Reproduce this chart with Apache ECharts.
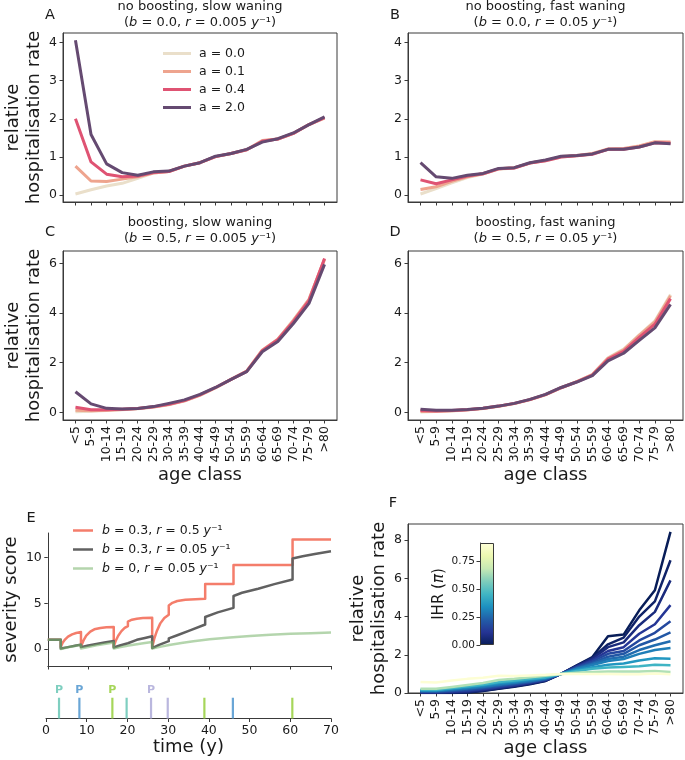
<!DOCTYPE html>
<html><head><meta charset="utf-8">
<script src="https://cdn.jsdelivr.net/npm/echarts@6/dist/echarts.min.js"></script>
<style>html,body{margin:0;padding:0;background:#fff}#c{width:685px;height:760px}</style>
</head><body><div id="c"></div><script>
// ---------------- DATA ----------------
const ageClasses = ['<5','5-9','10-14','15-19','20-24','25-29','30-34','35-39','40-44','45-49','50-54','55-59','60-64','65-69','70-74','75-79','>80'];
const aLabels = ['a = 0.0','a = 0.1','a = 0.4','a = 2.0'];

// Panel A: no boosting, slow waning
const A_a00 = [0.03,0.14,0.24,0.31,0.44,0.58,0.62,0.76,0.85,1.01,1.09,1.19,1.42,1.47,1.62,1.85,2.03];
const A_a01 = [0.76,0.37,0.36,0.42,0.48,0.58,0.62,0.76,0.85,1.01,1.09,1.19,1.43,1.47,1.62,1.85,2.02];
const A_a04 = [2.00,0.87,0.55,0.48,0.50,0.59,0.62,0.76,0.85,1.01,1.09,1.19,1.41,1.47,1.62,1.85,2.03];
const A_a20 = [4.06,1.59,0.82,0.59,0.52,0.61,0.63,0.76,0.85,1.02,1.09,1.20,1.39,1.48,1.63,1.85,2.05];
// Panel B: no boosting, fast waning
const B_a00 = [0.03,0.17,0.32,0.46,0.55,0.68,0.71,0.84,0.90,1.00,1.03,1.08,1.20,1.21,1.28,1.38,1.37];
const B_a01 = [0.15,0.22,0.36,0.48,0.56,0.69,0.72,0.84,0.91,1.01,1.04,1.09,1.21,1.22,1.29,1.40,1.39];
const B_a04 = [0.40,0.30,0.40,0.50,0.56,0.69,0.71,0.84,0.90,1.00,1.03,1.07,1.20,1.20,1.26,1.37,1.36];
const B_a20 = [0.85,0.48,0.44,0.52,0.57,0.70,0.72,0.85,0.92,1.02,1.04,1.08,1.20,1.20,1.26,1.37,1.35];
// Panel C: boosting, slow waning
const C_a00 = [0.02,0.04,0.07,0.10,0.14,0.20,0.30,0.45,0.68,0.98,1.32,1.66,2.50,2.95,3.72,4.55,6.15];
const C_a01 = [0.08,0.06,0.08,0.11,0.15,0.21,0.31,0.46,0.69,0.99,1.33,1.66,2.50,2.95,3.70,4.55,6.18];
const C_a04 = [0.20,0.10,0.10,0.12,0.15,0.22,0.32,0.47,0.70,1.00,1.33,1.65,2.48,2.92,3.66,4.50,6.20];
const C_a20 = [0.83,0.34,0.16,0.13,0.15,0.23,0.36,0.50,0.72,1.00,1.33,1.64,2.44,2.85,3.58,4.39,5.96];
// Panel D: boosting, fast waning
const D_a00 = [0.01,0.03,0.05,0.09,0.15,0.24,0.35,0.50,0.70,0.98,1.24,1.52,2.20,2.55,3.12,3.68,4.75];
const D_a01 = [0.03,0.04,0.06,0.10,0.15,0.24,0.35,0.51,0.71,0.99,1.24,1.52,2.18,2.52,3.10,3.64,4.70];
const D_a04 = [0.07,0.05,0.07,0.10,0.16,0.25,0.36,0.51,0.71,0.99,1.23,1.50,2.14,2.46,3.02,3.55,4.58];
const D_a20 = [0.12,0.08,0.08,0.11,0.16,0.25,0.36,0.52,0.72,1.00,1.22,1.48,2.07,2.38,2.90,3.40,4.35];

// Panel E: severity score over time [t, score]
const E_names = ['b = 0.3, r = 0.5 y⁻¹','b = 0.3, r = 0.05 y⁻¹','b = 0, r = 0.05 y⁻¹'];
const E_fast = [[0,1],[3.2,1],[3.2,0.2],[3.7,0.7],[4.3,1.05],[5,1.35],[6,1.6],[7,1.75],[8.2,1.85],
  [8.2,0.25],[8.8,0.9],[9.5,1.45],[10.5,1.9],[11.5,2.15],[13,2.3],[14.5,2.38],[16.3,2.4],
  [16.3,0.25],[16.8,0.9],[17.4,1.45],[18.2,1.95],[19,2.3],[19.8,2.5],[19.8,3.0],[20.8,3.2],[22,3.3],[23.5,3.38],[25.8,3.42],
  [25.8,0.2],[26.3,1.1],[26.9,1.9],[27.8,2.8],[28.8,3.4],[29.9,3.75],[29.9,4.75],[30.8,5.05],[32,5.25],[34,5.38],[36.5,5.45],[38.9,5.5],
  [38.9,7.1],[45.9,7.1],[45.9,9.2],[60.5,9.2],[60.5,12.0],[70,12.0]];
const E_slow = [[0,1],[3.2,1],[3.2,0.05],[5,0.2],[7,0.38],[8.2,0.47],[8.2,0.2],[10,0.38],[12,0.55],[14,0.7],[16.3,0.86],
  [16.3,0.15],[18,0.4],[19.8,0.62],[19.8,0.8],[22,1.0],[24,1.2],[25.8,1.38],
  [25.8,0.1],[27.5,0.45],[29.9,0.85],[29.9,1.15],[32,1.5],[35,2.0],[38.9,2.68],
  [38.9,3.5],[42,4.0],[45.9,4.5],[45.9,5.8],[48,6.15],[52,6.6],[56,7.1],[60.5,7.6],
  [60.5,9.9],[63,10.15],[66,10.4],[70,10.7]];
const E_noboost = [[0,1],[3.2,1],[3.2,0.0],[5,0.18],[7,0.35],[8.2,0.45],[8.2,0.05],[10,0.22],[12,0.4],[14,0.55],[16.3,0.7],
  [16.3,0.05],[18,0.2],[20,0.38],[22,0.52],[24,0.65],[25.8,0.75],[25.8,0.05],[28,0.25],[30,0.42],[33,0.65],[36,0.85],
  [40,1.05],[45,1.25],[50,1.42],[55,1.55],[60,1.65],[65,1.73],[70,1.8]];
// infection events
const eventTimes = [3.2, 8.2, 16.3, 19.8, 25.8, 29.9, 38.9, 45.9, 60.5];
const eventStrain = [0, 1, 2, 0, 3, 3, 2, 1, 2];
const eventPrimary = [true, true, true, false, true, false, false, false, false];
const eventHeight = 0.62;

// Panel F: relative hospitalisation rate for different IHR values
const F_ihr = [0.0, 0.03, 0.07, 0.12, 0.17, 0.21, 0.26, 0.30, 0.36, 0.45, 0.65, 0.90];
const F_rates = [
  [0.00,0.00,0.00,0.02,0.10,0.22,0.33,0.46,0.63,1.0,1.45,1.88,2.97,3.06,4.33,5.38,8.44],
  [0.01,0.01,0.02,0.04,0.12,0.24,0.35,0.48,0.64,1.0,1.43,1.84,2.55,2.90,4.00,4.80,6.95],
  [0.02,0.02,0.04,0.07,0.15,0.26,0.37,0.50,0.66,1.0,1.41,1.80,2.40,2.65,3.55,4.25,5.90],
  [0.04,0.04,0.07,0.11,0.19,0.30,0.40,0.53,0.68,1.0,1.38,1.72,2.20,2.40,3.10,3.60,4.60],
  [0.06,0.06,0.10,0.15,0.23,0.34,0.44,0.56,0.70,1.0,1.35,1.65,2.05,2.20,2.75,3.15,3.76],
  [0.08,0.08,0.13,0.19,0.27,0.38,0.48,0.59,0.72,1.0,1.32,1.58,1.90,2.05,2.50,2.80,3.17],
  [0.10,0.10,0.16,0.23,0.31,0.42,0.52,0.62,0.75,1.0,1.29,1.52,1.78,1.90,2.25,2.50,2.71],
  [0.12,0.12,0.19,0.26,0.35,0.46,0.55,0.65,0.77,1.0,1.26,1.46,1.67,1.78,2.05,2.25,2.36],
  [0.15,0.15,0.23,0.31,0.40,0.52,0.60,0.70,0.80,1.0,1.20,1.35,1.48,1.55,1.70,1.82,1.80],
  [0.17,0.17,0.26,0.35,0.45,0.57,0.65,0.74,0.83,1.0,1.15,1.27,1.33,1.36,1.40,1.48,1.45],
  [0.22,0.22,0.32,0.42,0.52,0.68,0.74,0.82,0.90,1.0,1.06,1.10,1.12,1.12,1.12,1.15,1.10],
  [0.58,0.55,0.65,0.74,0.80,0.90,0.89,0.92,0.95,1.0,1.00,1.00,1.00,0.98,0.98,1.02,0.98]
];
const ihrMax = 0.914;
const cbTicks = [0, 0.25, 0.5, 0.75];

// ---------------- STYLE ----------------
const FONT = 'DejaVu Sans';
const TXT = '#1a1a1a';
const AXC = '#3a3a3a';
const NAME_SIZE = 18;
const paletteA = ['#eadfca','#eea48e','#df5373','#654a71'];
const eColors = ['#f47d6b','#616161','#77b36a'];
const eLegendColors = ['#f47d6b','#616161','#b4d5ad'];
const strainColors = ['#7fcfc0','#6aa6d6','#a6d65a','#bab7de'];
const ylgnbu = ['#ffffd9','#edf8b1','#c7e9b4','#7fcdbb','#41b6c4','#1d91c0','#225ea8','#253494','#081d58'];

function hex2rgb(h){return [parseInt(h.slice(1,3),16),parseInt(h.slice(3,5),16),parseInt(h.slice(5,7),16)];}
function cmap(f){ // f in [0,1]; 0 -> dark navy (YlGnBu reversed)
  const t = Math.max(0, Math.min(1, 1 - f)) * (ylgnbu.length - 1);
  const i = Math.min(Math.floor(t), ylgnbu.length - 2), u = t - i;
  const a = hex2rgb(ylgnbu[i]), b = hex2rgb(ylgnbu[i+1]);
  return 'rgb(' + a.map((v,k)=>Math.round(v + (b[k]-v)*u)).join(',') + ')';
}

const ageIdx = ageClasses.map((_, i) => i);

const grids = [
  {left:63, top:33, width:274, height:169, show:true, borderColor:AXC, borderWidth:1},   // A
  {left:408, top:33, width:275, height:169, show:true, borderColor:AXC, borderWidth:1},  // B
  {left:63, top:251, width:274, height:169, show:true, borderColor:AXC, borderWidth:1},  // C
  {left:408, top:251, width:275, height:169, show:true, borderColor:AXC, borderWidth:1}, // D
  {left:46, top:533, width:285, height:133},                                             // E main
  {left:46, top:685, width:285, height:33.5},                                            // E events
  {left:408, top:524, width:275, height:169, show:true, borderColor:AXC, borderWidth:1}, // F
  {left:480, top:543, width:14, height:102}                                              // colorbar
];

function xAgeAxis(gi, withLabels){
  return {
    type:'value', gridIndex:gi, min:-0.8, max:16.8,
    axisLine:{show:true, onZero:false, lineStyle:{color:AXC, width:1}},
    axisTick:{show:true, customValues:ageIdx, length:3.5, lineStyle:{color:AXC}},
    axisLabel:{show:withLabels, customValues:ageIdx, rotate:90, margin:6, fontSize:12.5, color:TXT, fontFamily:FONT,
      formatter:v => ageClasses[Math.round(v)]},
    splitLine:{show:false},
    name: withLabels ? 'age class' : '', nameLocation:'middle', nameGap:41,
    nameTextStyle:{fontSize:NAME_SIZE, color:TXT, fontFamily:FONT}
  };
}
function yValAxis(gi, min, max, ticks, name, nameGap){
  return {
    type:'value', gridIndex:gi, min:min, max:max,
    axisLine:{show:true, onZero:false, lineStyle:{color:AXC, width:1}},
    axisTick:{show:true, customValues:ticks, length:3.5, lineStyle:{color:AXC}},
    axisLabel:{show:true, customValues:ticks, margin:6, fontSize:12.5, color:TXT, fontFamily:FONT},
    splitLine:{show:false},
    name: name || '', nameLocation:'middle', nameRotate:90, nameGap: nameGap || 5,
    nameTextStyle:{fontSize:NAME_SIZE, color:TXT, fontFamily:FONT, lineHeight:21}
  };
}
const yName = 'relative\nhospitalisation rate';

const xAxes = [
  xAgeAxis(0, false), xAgeAxis(1, false), xAgeAxis(2, true), xAgeAxis(3, true),
  {type:'value', gridIndex:4, min:0, max:70, interval:10,
    axisLine:{show:true, onZero:false, lineStyle:{color:AXC}}, axisTick:{show:true, length:3.5, lineStyle:{color:AXC}},
    axisLabel:{show:false}, splitLine:{show:false}},
  {type:'value', gridIndex:5, min:0, max:70, interval:10,
    axisLine:{show:true, onZero:false, lineStyle:{color:AXC}}, axisTick:{show:true, length:3.5, lineStyle:{color:AXC}},
    axisLabel:{show:true, margin:6, fontSize:12.5, color:TXT, fontFamily:FONT}, splitLine:{show:false},
    name:'time (y)', nameLocation:'middle', nameGap:19, nameTextStyle:{fontSize:NAME_SIZE, color:TXT, fontFamily:FONT}},
  xAgeAxis(6, true),
  {type:'category', gridIndex:7, data:[''], show:false}
];
const yAxes = [
  yValAxis(0, -0.18, 4.25, [0,1,2,3,4], yName),
  yValAxis(1, -0.18, 4.25, [0,1,2,3,4]),
  yValAxis(2, -0.31, 6.5, [0,2,4,6], yName),
  yValAxis(3, -0.31, 6.5, [0,2,4,6]),
  yValAxis(4, -1.87, 12.7, [0,5,10], 'severity score', 25),
  {type:'value', gridIndex:5, min:0, max:1, show:false},
  yValAxis(6, 0, 8.85, [0,2,4,6,8], yName),
  {type:'value', gridIndex:7, min:0, max:ihrMax,
    axisLine:{show:true, lineStyle:{color:AXC}},
    axisTick:{show:true, customValues:cbTicks, length:3.5, lineStyle:{color:AXC}},
    axisLabel:{show:true, customValues:cbTicks, margin:5, fontSize:10.5, color:TXT, fontFamily:FONT, formatter:v=>v.toFixed(2)},
    splitLine:{show:false},
    name:'{n|IHR (}{i|π}{n|)}', nameLocation:'middle', nameRotate:90, nameGap:33,
    nameTextStyle:{fontSize:15, color:TXT, fontFamily:FONT,
      rich:{n:{fontSize:15, fontFamily:FONT, color:TXT}, i:{fontSize:15, fontFamily:FONT, fontStyle:'italic', color:TXT}}}}
];

const series = [];
const panels = [[A_a00,A_a01,A_a04,A_a20],[B_a00,B_a01,B_a04,B_a20],[C_a00,C_a01,C_a04,C_a20],[D_a00,D_a01,D_a04,D_a20]];
panels.forEach((lines, p) => {
  lines.forEach((vals, j) => {
    series.push({type:'line', name:aLabels[j], xAxisIndex:p, yAxisIndex:p,
      data: vals.map((v,i)=>[i, v]), showSymbol:false, symbol:'none', color:paletteA[j],
      lineStyle:{width:3, join:'round'}, z:2+j, silent:true});
  });
});
// Panel E
const eData = [E_fast, E_slow, E_noboost];
eData.forEach((d, k) => {
  series.push({type:'line', name:E_names[k], xAxisIndex:4, yAxisIndex:4, data:d, showSymbol:false, symbol:'none',
    color:eColors[k], lineStyle:{width:2.5, opacity: k===2 ? 0.55 : 1, join:'round'}, z:2+k, silent:true});
});
series.push({type:'bar', xAxisIndex:5, yAxisIndex:5, barWidth:2.2, silent:true,
  data: eventTimes.map((t,i)=>({value:[t, eventHeight], itemStyle:{color:strainColors[eventStrain[i]]},
    label:{show:eventPrimary[i], position:'top', distance:2, formatter:'P', fontSize:11, fontWeight:'bold',
      fontFamily:FONT, color:strainColors[eventStrain[i]]}}))});
// Panel F
F_rates.forEach((vals, k) => {
  series.push({type:'line', xAxisIndex:6, yAxisIndex:6, data: vals.map((v,i)=>[i, v]), showSymbol:false, symbol:'none',
    color:cmap(F_ihr[k]/ihrMax), lineStyle:{width:2.5, join:'round'}, z:2, silent:true});
});
// colorbar
series.push({type:'bar', xAxisIndex:7, yAxisIndex:7, data:[ihrMax], barWidth:'100%', silent:true, z:5,
  itemStyle:{borderColor:AXC, borderWidth:1,
    color:new echarts.graphic.LinearGradient(0,0,0,1, ylgnbu.map((c,k)=>({offset:k/(ylgnbu.length-1), color:c})))}});

// ---------------- TEXT ----------------
const richI = {i:{fontStyle:'italic', fontFamily:FONT, fontSize:13, fill:TXT}, n:{fontFamily:FONT, fontSize:13, fill:TXT}};
function gtext(x, y, text, size, extra){
  return {type:'text', x:x, y:y, silent:true,
    style:Object.assign({text:text, fill:TXT, font: size + 'px ' + FONT, fontSize:size, fontFamily:FONT,
      align:'center', verticalAlign:'middle', textAlign:'center', textVerticalAlign:'middle'}, extra||{})};
}
function paramText(b, r){ return '{n|(}{i|b}{n| = ' + b + ', }{i|r}{n| = ' + r + ' }{i|y}{n|⁻¹)}'; }
const graphics = [
  gtext(50, 15, 'A', 14.5), gtext(395, 15, 'B', 14.5), gtext(50, 232, 'C', 14.5), gtext(395, 232, 'D', 14.5),
  gtext(31, 518, 'E', 14.5), gtext(393, 503, 'F', 14.5),
  gtext(200, 7, 'no boosting, slow waning', 13), gtext(200, 23, paramText('0.0','0.005'), 13, {rich:richI}),
  gtext(545.5, 7, 'no boosting, fast waning', 13), gtext(545.5, 23, paramText('0.0','0.05'), 13, {rich:richI}),
  gtext(200, 223, 'boosting, slow waning', 13), gtext(200, 239, paramText('0.5','0.005'), 13, {rich:richI}),
  gtext(545.5, 223, 'boosting, fast waning', 13), gtext(545.5, 239, paramText('0.5','0.05'), 13, {rich:richI})
];

function eLegendFmt(name){
  return name.replace(/^b/, '{i|b}').replace(', r', ', {i|r}').replace(' y⁻¹', ' {i|y}⁻¹');
}

const chart = echarts.init(document.getElementById('c'), null, {renderer:'canvas', width:685, height:760});
chart.setOption({
  animation:false,
  backgroundColor:'#ffffff',
  textStyle:{fontFamily:FONT},
  grid:grids, xAxis:xAxes, yAxis:yAxes, series:series, graphic:graphics,
  legend:[
    {data:aLabels, left:158, top:42, orient:'vertical', itemWidth:28, itemHeight:3, itemGap:5, icon:'rect',
      selectedMode:false, textStyle:{fontSize:12.5, color:TXT, fontFamily:FONT, padding:[0,0,0,3]}},
    {data:E_names.map((n,k)=>({name:n, itemStyle:{color:eLegendColors[k]}})), left:68, top:519, orient:'vertical',
      itemWidth:20, itemHeight:2.5, itemGap:6, icon:'rect',
      selectedMode:false, formatter:eLegendFmt,
      textStyle:{fontSize:12.5, color:TXT, fontFamily:FONT, padding:[0,0,0,4],
        rich:{i:{fontStyle:'italic', fontSize:12.5, fontFamily:FONT, color:TXT}}}}
  ]
});
</script></body></html>
